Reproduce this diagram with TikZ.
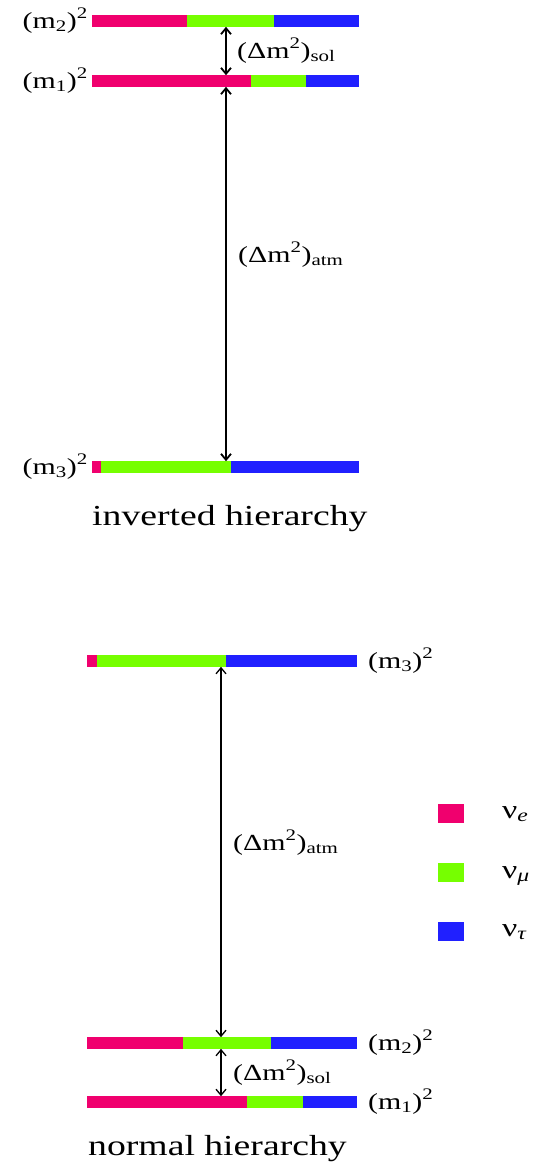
\documentclass[tikz,border=0pt]{standalone}
\usepackage{fontspec}
\setmainfont[FakeStretch=1.3]{Liberation Serif}
\usetikzlibrary{arrows.meta}
\definecolor{nue}{RGB}{240,0,110}
\definecolor{numu}{RGB}{118,255,0}
\definecolor{nutau}{RGB}{32,32,255}
\newcommand\levelbar[5]{%
  \fill[nue] (#2,#1-5.8) rectangle (#3,#1+5.8);
  \fill[numu] (#3,#1-5.8) rectangle (#4,#1+5.8);
  \fill[nutau] (#4,#1-5.8) rectangle (#5,#1+5.8);}
\tikzset{
  gapthick/.style={draw, line width=1.8pt, {Straight Barb[length=6pt,width=10pt]}-{Straight Barb[length=6pt,width=10pt]}},
  gapthin/.style={draw, line width=1.3pt, {Straight Barb[length=6pt,width=10pt]}-{Straight Barb[length=6pt,width=10pt]}},
  mlabel/.style={inner sep=0pt, font=\fontsize{23}{26}\selectfont},
  dlabel/.style={inner sep=0pt, anchor=base west, font=\fontsize{23}{27}\selectfont},
  title/.style={inner sep=0pt, anchor=base west, font=\fontsize{29}{34}\selectfont},
  legbox/.style={fill=#1, minimum width=26pt, minimum height=18.5pt, inner sep=0pt},
  leglabel/.style={inner sep=0pt, anchor=base west, font=\fontsize{26}{30}\selectfont}
}
\begin{document}
\begin{tikzpicture}[x=1pt,y=-1pt]
\useasboundingbox (0,0) rectangle (545,1168);
% inverted hierarchy
\levelbar{21}{92}{187}{274}{359}
\levelbar{81}{92}{251}{306}{359}
\levelbar{467}{92}{101}{231}{359}
\node[mlabel, anchor=base east] (im2) at (88,28) {(m\textsubscript{2})\textsuperscript{2}};
\node[mlabel, anchor=base east] (im1) at (88,88) {(m\textsubscript{1})\textsuperscript{2}};
\node[mlabel, anchor=base east] (im3) at (88,474) {(m\textsubscript{3})\textsuperscript{2}};
\coordinate (i2b) at (226,26.8);
\coordinate (i1t) at (226,75.2);
\coordinate (i1b) at (226,86.8);
\coordinate (i3t) at (226,461.2);
\draw[gapthick] (i2b) -- (i1t);
\draw[gapthick] (i1b) -- (i3t);
\node[dlabel] (isol) at (237,58) {(Δm\textsuperscript{2})\textsubscript{sol}};
\node[dlabel] (iatm) at (238,262) {(Δm\textsuperscript{2})\textsubscript{atm}};
\node[title] (ititle) at (92,525) {inverted hierarchy};
% normal hierarchy
\levelbar{661}{87}{97}{226}{357}
\levelbar{1043}{87}{183}{271}{357}
\levelbar{1102}{87}{247}{303}{357}
\node[mlabel, anchor=base west] (nm3) at (368,668) {(m\textsubscript{3})\textsuperscript{2}};
\node[mlabel, anchor=base west] (nm2) at (368,1050) {(m\textsubscript{2})\textsuperscript{2}};
\node[mlabel, anchor=base west] (nm1) at (368,1109) {(m\textsubscript{1})\textsuperscript{2}};
\coordinate (n3b) at (221,666.8);
\coordinate (n2t) at (221,1037.2);
\coordinate (n2b) at (221,1048.8);
\coordinate (n1t) at (221,1096.2);
\draw[gapthin] (n3b) -- (n2t);
\draw[gapthin] (n2b) -- (n1t);
\node[dlabel] (natm) at (233,850) {(Δm\textsuperscript{2})\textsubscript{atm}};
\node[dlabel] (nsol) at (233,1080) {(Δm\textsuperscript{2})\textsubscript{sol}};
\node[title] (ntitle) at (88,1155) {normal hierarchy};
% legend
\node[legbox=nue] (le) at (451,813.5) {};
\node[legbox=numu] (lmu) at (451,872.5) {};
\node[legbox=nutau] (ltau) at (451,931.5) {};
\node[leglabel] (te) at (502,818) {ν\textsubscript{\textit{e}}};
\node[leglabel] (tmu) at (502,878) {ν\textsubscript{\textit{μ}}};
\node[leglabel] (ttau) at (502,936) {ν\textsubscript{\textit{τ}}};
\end{tikzpicture}
\end{document}
